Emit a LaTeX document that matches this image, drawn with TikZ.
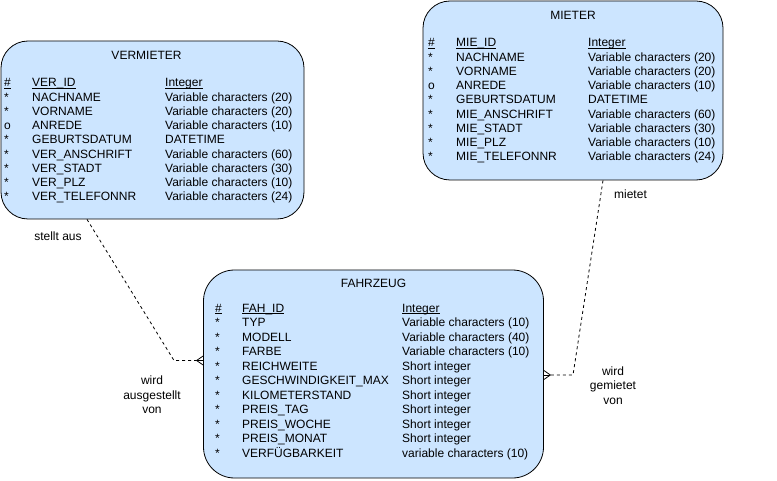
\documentclass[tikz,border=0pt]{standalone}
\usepackage{fontspec}
\setmainfont{Liberation Sans}
\definecolor{boxblue}{HTML}{CCE5FF}
\newcommand\uln[1]{\setbox0\hbox{#1}\rlap{\rule[-2pt]{\wd0}{0.8pt}}\box0}
\begin{document}
\begin{tikzpicture}[x=1pt,y=-1pt,
  font=\fontsize{12}{14.4}\selectfont,
  box/.style={draw=black, fill=boxblue, line width=0.8pt, inner sep=0pt},
  cell/.style={anchor=base west, inner sep=0pt, text=black},
  ttl/.style={anchor=base, inner sep=0pt},
  lbl/.style={align=center, inner sep=0pt, anchor=center},
  rel/.style={draw=black, line width=0.8pt, dash pattern=on 3pt off 3pt},
  foot/.style={draw=black, line width=0.8pt}]
\useasboundingbox (0,0) rectangle (777,481);

% boxes
\node[box, rounded corners=27pt, minimum width=303pt, minimum height=178pt] (ver) at (152.5,130) {};
\node[box, rounded corners=27pt, minimum width=300pt, minimum height=179pt] (mie) at (573,90.5) {};
\node[box, rounded corners=31pt, minimum width=340pt, minimum height=208pt] (fz) at (373.5,374) {};

% titles
\node[ttl] (verT) at (146.5,59.3) {VERMIETER};
\node[ttl] (mieT) at (573,19.3) {MIETER};
\node[ttl] (fzT) at (373.5,287.3) {FAHRZEUG};

% VERMIETER rows
\node[cell] (vh1) at (4,87) {\uln{\#}};
\node[cell] (vh2) at (32,87) {\uln{VER\_ID}};
\node[cell] (vh3) at (165,87) {\uln{Integer}};
\foreach \s/\n/\t [count=\i] in {*/NACHNAME/Variable characters (20),
  */VORNAME/Variable characters (20), o/ANREDE/Variable characters (10),
  */GEBURTSDATUM/DATETIME, */VER\_ANSCHRIFT/Variable characters (60),
  */VER\_STADT/Variable characters (30), */VER\_PLZ/Variable characters (10),
  */VER\_TELEFONNR/Variable characters (24)}{
  \node[cell] (vs\i) at (4,87+14.25*\i) {\s};
  \node[cell] (vn\i) at (32,87+14.25*\i) {\n};
  \node[cell] (vt\i) at (165,87+14.25*\i) {\t};
}

% MIETER rows
\node[cell] (mh1) at (428,47) {\uln{\#}};
\node[cell] (mh2) at (456,47) {\uln{MIE\_ID}};
\node[cell] (mh3) at (588,47) {\uln{Integer}};
\foreach \s/\n/\t [count=\i] in {*/NACHNAME/Variable characters (20),
  */VORNAME/Variable characters (20), o/ANREDE/Variable characters (10),
  */GEBURTSDATUM/DATETIME, */MIE\_ANSCHRIFT/Variable characters (60),
  */MIE\_STADT/Variable characters (30), */MIE\_PLZ/Variable characters (10),
  */MIE\_TELEFONNR/Variable characters (24)}{
  \node[cell] (ms\i) at (428,47+14.25*\i) {\s};
  \node[cell] (mn\i) at (456,47+14.25*\i) {\n};
  \node[cell] (mt\i) at (588,47+14.25*\i) {\t};
}

% FAHRZEUG rows
\node[cell] (fh1) at (215,312.3) {\uln{\#}};
\node[cell] (fh2) at (242,312.3) {\uln{FAH\_ID}};
\node[cell] (fh3) at (402,312.3) {\uln{Integer}};
\foreach \s/\n/\t [count=\i] in {*/TYP/Variable characters (10),
  */MODELL/Variable characters (40), */FARBE/Variable characters (10),
  */REICHWEITE/Short integer, */GESCHWINDIGKEIT\_MAX/Short integer,
  */KILOMETERSTAND/Short integer, */PREIS\_TAG/Short integer,
  */PREIS\_WOCHE/Short integer, */PREIS\_MONAT/Short integer,
  */VERFÜGBARKEIT/variable characters (10)}{
  \node[cell] (fs\i) at (215,312.3+14.5*\i) {\s};
  \node[cell] (fn\i) at (242,312.3+14.5*\i) {\n};
  \node[cell] (ft\i) at (402,312.3+14.5*\i) {\t};
}

% connector VERMIETER - FAHRZEUG
\coordinate (va) at (ver.south -| 87,0);
\coordinate (vb) at (174,360.5);
\coordinate (vc) at (fz.west |- vb);
\coordinate (vtip) at ([xshift=-6.5pt]vc);
\draw[rel] (va) -- (vb) -- (vtip);
\draw[foot] ([yshift=-4.5pt]vc) -- (vtip) -- ([yshift=4.5pt]vc);
\draw[foot] (vtip) -- (vc);

% connector MIETER - FAHRZEUG
\coordinate (ma) at (mie.south -| 603,0);
\coordinate (mb) at (573,375);
\coordinate (mc) at (fz.east |- mb);
\coordinate (mtip) at ([xshift=6.5pt]mc);
\draw[rel] (ma) -- (mb) -- (mtip);
\draw[foot] ([yshift=-4.5pt]mc) -- (mtip) -- ([yshift=4.5pt]mc);
\draw[foot] (mtip) -- (mc);

% labels
\node[lbl] (l1) at (58,236) {stellt aus};
\node[lbl] (l2) at (152,395) {wird\\ausgestellt\\von};
\node[lbl] (l3) at (630.5,194) {mietet};
\node[lbl] (l4) at (613,385.5) {wird\\gemietet\\von};
\end{tikzpicture}
\end{document}
